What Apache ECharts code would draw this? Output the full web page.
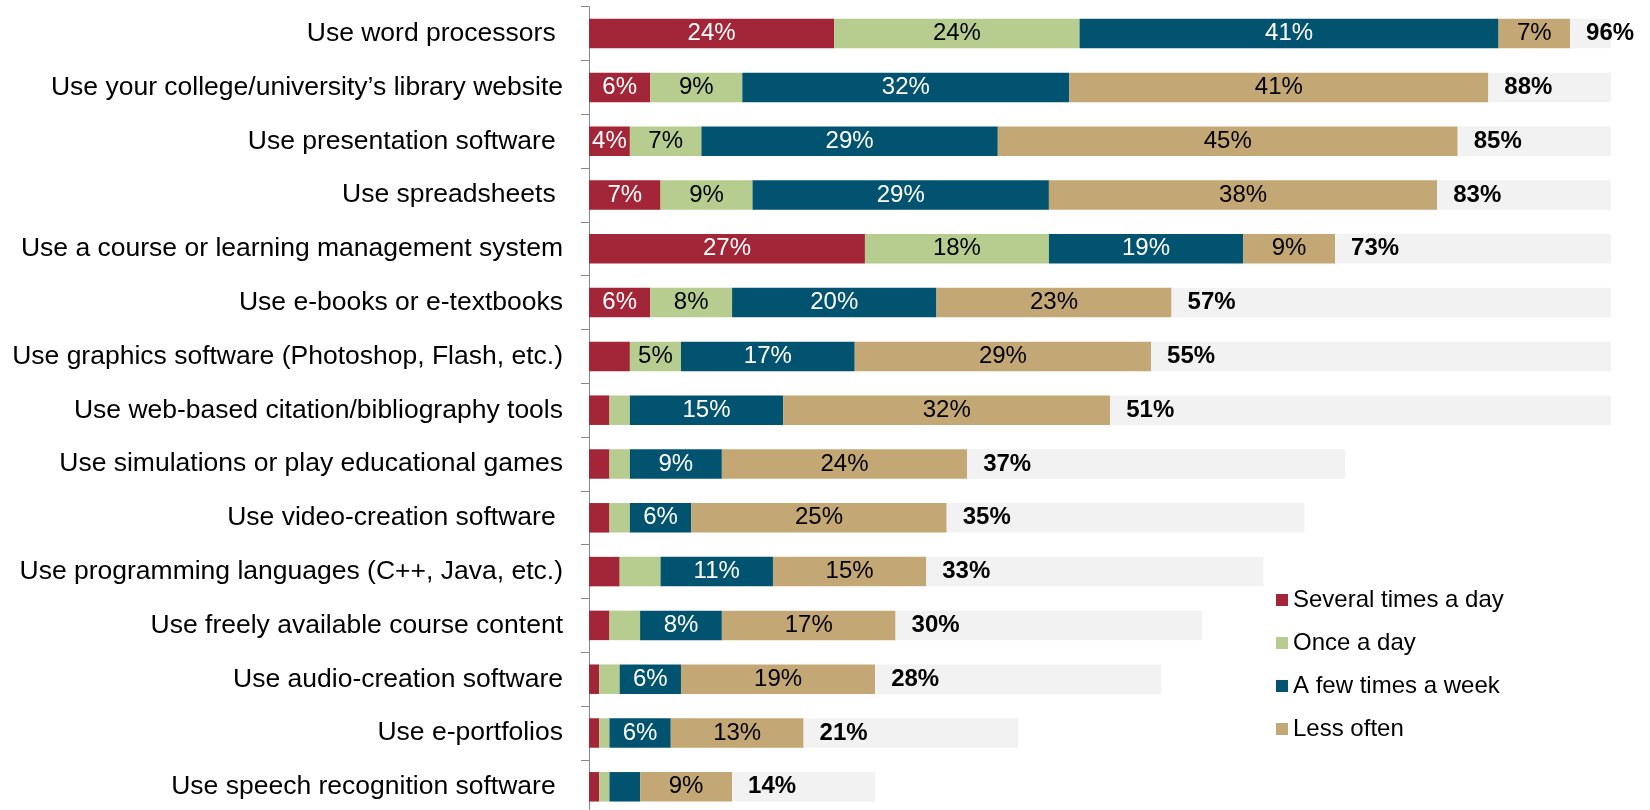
<!DOCTYPE html>
<html>
<head>
<meta charset="utf-8">
<script src="https://cdn.jsdelivr.net/npm/echarts@6/dist/echarts.min.js"></script>
<style>
  html, body { margin: 0; padding: 0; background: #ffffff; }
  #chart { width: 1650px; height: 810px; }
</style>
</head>
<body>
<div id="chart"></div>
<script>
// Activities, top to bottom (trailing spaces kept as in the source labels)
const categories = [
  'Use word processors ',
  'Use your college/university\u2019s library website',
  'Use presentation software ',
  'Use spreadsheets ',
  'Use a course or learning management system',
  'Use e-books or e-textbooks',
  'Use graphics software (Photoshop, Flash, etc.)',
  'Use web-based citation/bibliography tools',
  'Use simulations or play educational games',
  'Use video-creation software ',
  'Use programming languages (C++, Java, etc.)',
  'Use freely available course content',
  'Use audio-creation software',
  'Use e-portfolios',
  'Use speech recognition software '
];

const seriesNames = ['Several times a day', 'Once a day', 'A few times a week', 'Less often'];

// Share of students (%) per frequency
const severalTimesADay = [24, 6, 4, 7, 27, 6, 4, 2, 2, 2, 3, 2, 1, 1, 1];
const onceADay         = [24, 9, 7, 9, 18, 8, 5, 2, 2, 2, 4, 3, 2, 1, 1];
const fewTimesAWeek    = [41, 32, 29, 29, 19, 20, 17, 15, 9, 6, 11, 8, 6, 6, 3];
const lessOften        = [7, 41, 45, 38, 9, 23, 29, 32, 24, 25, 15, 17, 19, 13, 9];

// Overall share using each tool
const totals = [96, 88, 85, 83, 73, 57, 55, 51, 37, 35, 33, 30, 28, 21, 14];

// Small segments that still carry a label: [series index, row index]
const forcedLabels = [[0, 2]];
const labelThreshold = 5;

const colors = ['#A32638', '#B6CD8F', '#02536F', '#C3A774'];
const labelColors = ['#ffffff', '#000000', '#ffffff', '#000000'];
const FONT = '"Liberation Sans", Arial, Helvetica, sans-serif';

const chart = echarts.init(document.getElementById('chart'), null, { renderer: 'canvas' });

const seriesValues = [severalTimesADay, onceADay, fewTimesAWeek, lessOften];

function isLabelled(si, ri, v) {
  if (v >= labelThreshold) return true;
  return forcedLabels.some(p => p[0] === si && p[1] === ri);
}

const segmentSeries = seriesValues.map((vals, si) => ({
  name: seriesNames[si],
  type: 'bar',
  stack: 'use',
  barWidth: 29.5,
  itemStyle: { color: colors[si] },
  label: {
    show: true,
    position: 'inside',
    color: labelColors[si],
    fontFamily: FONT,
    fontSize: 24,
    formatter: p => isLabelled(si, p.dataIndex, p.value) ? p.value + '%' : ''
  },
  emphasis: { disabled: true },
  data: vals
}));

// Light backdrop bar carrying the total; it is stacked after the segments
// and clipped at the 100% edge of the axis.
const totalSeries = {
  name: 'Total',
  type: 'bar',
  stack: 'use',
  barWidth: 29.5,
  clip: true,
  itemStyle: { color: '#F2F2F2' },
  label: {
    show: true,
    position: 'insideLeft',
    distance: 16,
    color: '#000000',
    fontFamily: FONT,
    fontSize: 24,
    fontWeight: 'bold',
    formatter: p => p.value + '%'
  },
  emphasis: { disabled: true },
  data: totals
};

chart.setOption({
  animation: false,
  backgroundColor: '#ffffff',
  textStyle: { fontFamily: FONT },
  grid: {
    left: 589, width: 1022, top: 6.7, height: 807,
    containLabel: false,
    outerBoundsMode: 'none'
  },
  xAxis: {
    type: 'value',
    min: 0,
    max: 100,
    show: false,
    splitLine: { show: false }
  },
  yAxis: {
    type: 'category',
    inverse: true,
    data: categories,
    axisLine: { show: true, lineStyle: { color: '#888888', width: 1 } },
    axisTick: { show: true, length: 8, lineStyle: { color: '#888888' } },
    axisLabel: {
      margin: 26,
      color: '#000000',
      fontFamily: FONT,
      fontSize: 26.5
    },
    splitLine: { show: false }
  },
  legend: {
    data: seriesNames,
    orient: 'vertical',
    left: 1276,
    top: 588,
    padding: 0,
    icon: 'rect',
    itemWidth: 12,
    itemHeight: 12,
    itemGap: 19,
    selectedMode: false,
    textStyle: { color: '#000000', fontFamily: FONT, fontSize: 24 }
  },
  series: [...segmentSeries, totalSeries]
});
</script>
</body>
</html>
